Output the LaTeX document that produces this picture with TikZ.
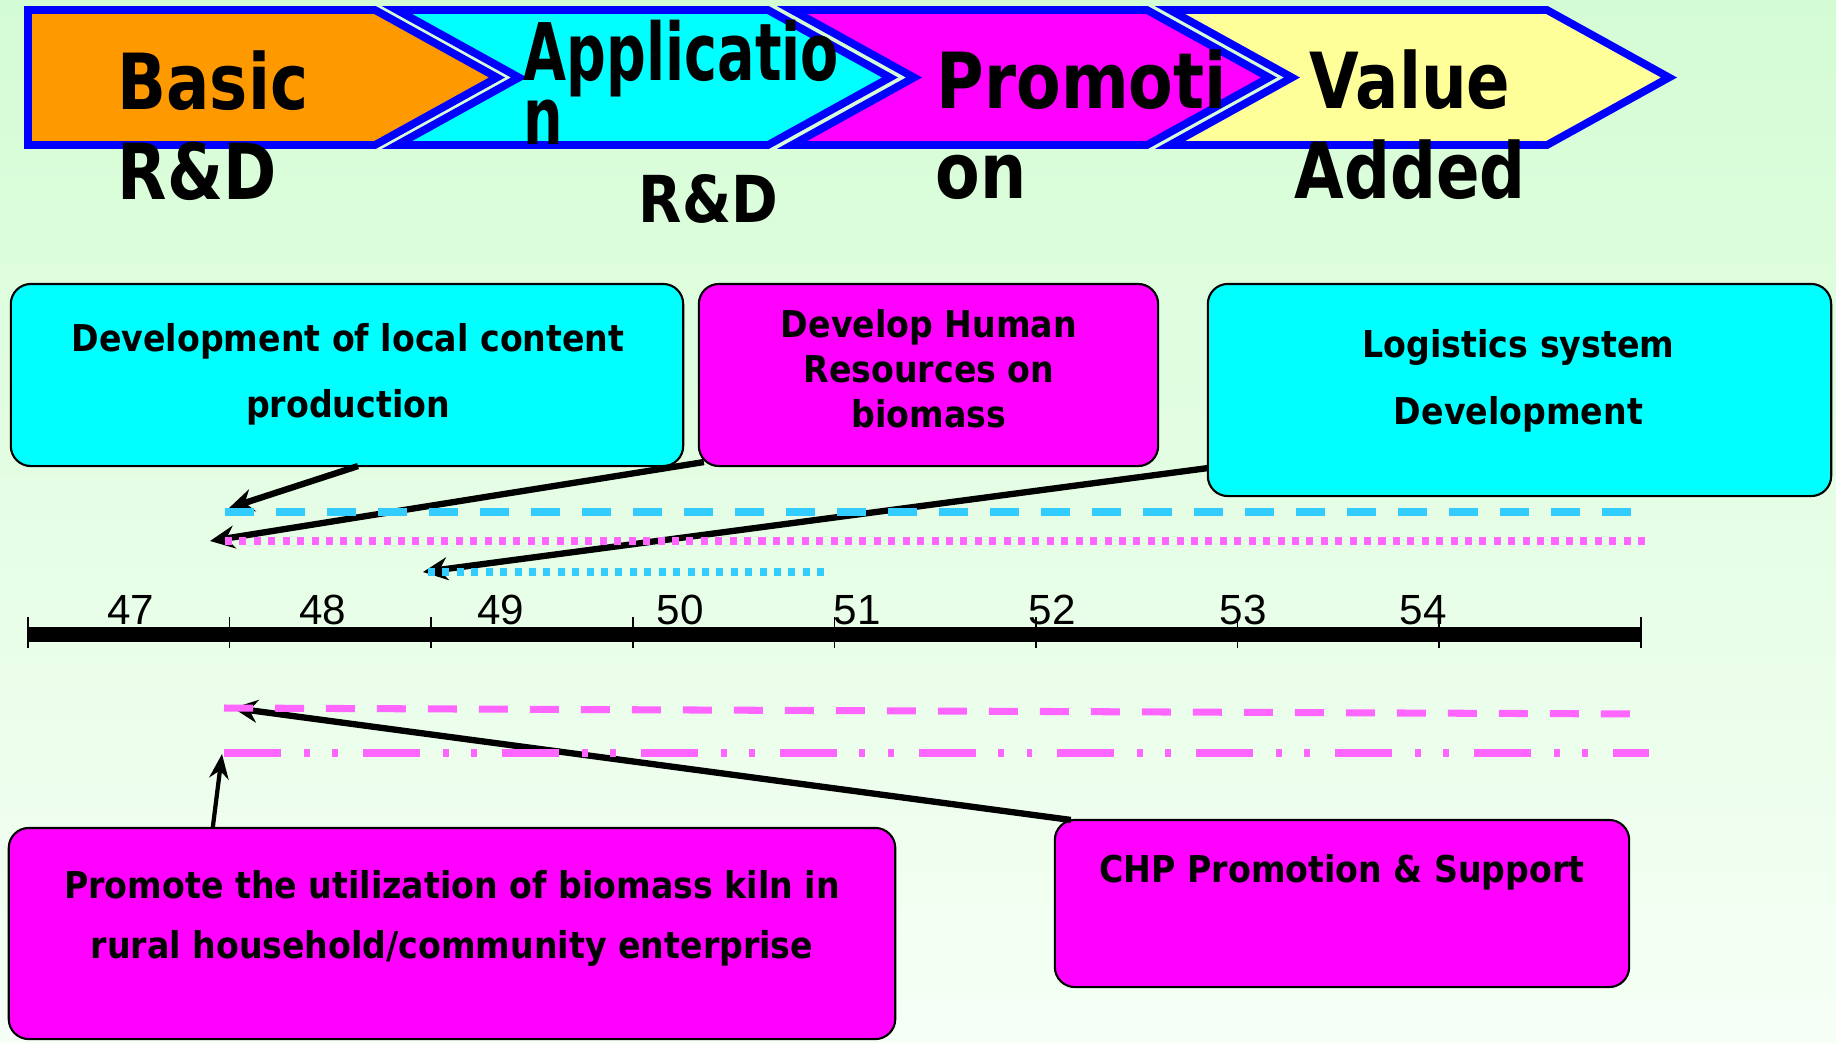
\documentclass[tikz,border=0pt]{standalone}
\usepackage{fontspec}
\usepackage{graphicx}
\usetikzlibrary{calc, arrows.meta}
\newfontfamily\headfont{DejaVu Sans}
\newfontfamily\boxfont[FakeStretch=0.9]{DejaVu Sans}
\newfontfamily\yearfont{Liberation Sans}
\definecolor{bgtop}{RGB}{212,252,212}
\definecolor{bgbot}{RGB}{246,255,246}
\definecolor{chorange}{RGB}{255,153,0}
\definecolor{chcyan}{RGB}{0,255,255}
\definecolor{chmagenta}{RGB}{255,0,255}
\definecolor{chyellow}{RGB}{255,255,153}
\definecolor{chblue}{RGB}{0,0,255}
\definecolor{lineblue}{RGB}{51,204,255}
\definecolor{linepink}{RGB}{255,102,255}
\newcommand{\sq}[2]{\scalebox{#1}[1]{#2}}
\tikzset{>=latex}

\begin{document}
\begin{tikzpicture}[
    x = 0.01cm, y = -0.01cm,
    chev/.style = {draw = chblue, line width = 2.2pt, line join = miter},
    head/.style = {anchor = base west, inner sep = 0pt, font = \headfont\bfseries\fontsize{22}{26}\selectfont},
    box/.style = {draw = black, line width = 0.6pt, rounded corners = 5.7pt, inner sep = 0pt, outer sep = 0pt},
    btxt/.style = {anchor = base, align = center, inner sep = 0pt, font = \boxfont\bfseries\fontsize{10.5}{18.5}\selectfont},
    year/.style = {anchor = base, inner sep = 0pt, font = \yearfont\fontsize{12}{14}\selectfont},
    arr/.style = {line width = 1.8pt, -{Stealth[length = 7pt, width = 6.5pt]}},
    arrthin/.style = {line width = 1.2pt, -{Stealth[length = 7pt, width = 5.5pt]}},
    dsh/.style = {line width = 2pt, dash pattern = on 8.25pt off 6.25pt},
    dot/.style = {line width = 2pt, dash pattern = on 2pt off 2.1pt},
]

\useasboundingbox (0,0) rectangle (1836,1042);
\shade[top color = bgtop, bottom color = bgbot] (0,0) rectangle (1836,1042);

% stages
\draw[chev, fill = chorange] (28,10) -- (375,10) -- (497,77.5) -- (375,145) -- (28,145) -- cycle;
\foreach \l/\f/\col in {397/768/chcyan, 792/1147/chmagenta, 1170/1547/chyellow}
    \draw[chev, fill = \col] (\l,10) -- (\f,10) -- (\f+122,77.5) -- (\f,145) -- (\l,145) -- (\l+122,77.5) -- cycle;

\node[head] (hBasic) at (117,109) {\sq{0.83}{Basic}};
\node[head] (hBasicRD) at (117,199) {\sq{0.83}{R\&D}};
\node[head, font = \headfont\bfseries\fontsize{22.6}{26}\selectfont] (hAppl) at (523,80) {\sq{0.70}{Applicatio}};
\node[head, font = \headfont\bfseries\fontsize{22.6}{26}\selectfont] (hApplN) at (523,144) {\sq{0.70}{n}};
\node[head, font = \headfont\bfseries\fontsize{18.4}{22}\selectfont] (hApplRD) at (638,222) {\sq{0.87}{R\&D}};
\node[head] (hPromo) at (936,108) {\sq{0.84}{Promoti}};
\node[head] (hPromoOn) at (935,198) {\sq{0.84}{on}};
\node[head, anchor = base] (hValue) at (1410,108) {\sq{0.83}{Value}};
\node[head, anchor = base] (hAdded) at (1410,198) {\sq{0.83}{Added}};

% tasks
\node[box, fill = chcyan, minimum width = 6.72cm, minimum height = 1.82cm] (devbox) at (347,375) {};
\node[box, fill = chmagenta, minimum width = 4.59cm, minimum height = 1.82cm] (hrbox) at (928.5,375) {};
\node[box, fill = chcyan, minimum width = 6.23cm, minimum height = 2.12cm] (logbox) at (1519.5,390) {};
\node[box, fill = chmagenta, minimum width = 8.86cm, minimum height = 2.11cm] (kilnbox) at (452,933.5) {};
\node[box, fill = chmagenta, minimum width = 5.74cm, minimum height = 1.67cm] (chpbox) at (1342,903.5) {};

% (base = last line)
\node[btxt] (devtxt) at (348,417) {Development of local content\\production};
\node[btxt, font = \boxfont\bfseries\fontsize{10.5}{12.7}\selectfont] (hrtxt) at (929,427) {Develop Human\\Resources on\\biomass};
\node[btxt, font = \boxfont\bfseries\fontsize{10.5}{18.8}\selectfont] (logtxt) at (1518.5,424) {Logistics system\\Development};
\node[btxt, font = \boxfont\bfseries\fontsize{10.5}{16.8}\selectfont] (kilntxt) at (452,958) {Promote the utilization of biomass kiln in\\rural household/community enterprise};
\node[btxt] (chptxt) at (1342,882) {CHP Promotion \& Support};

% timeline
\coordinate (bdA) at (225,512);  \coordinate (bdB) at (1640,512);
\coordinate (pdA) at (225,541);  \coordinate (pdB) at (1649,541);
\coordinate (sdA) at (428,572);  \coordinate (sdB) at (830,572);
\coordinate (pkA) at (224,708);  \coordinate (pkB) at (1640,714);
\coordinate (ddA) at (224,753);  \coordinate (ddB) at (1649,753);
\coordinate (axL) at (28,634.5); \coordinate (axR) at (1641,634.5);

\draw[arr] ($(devbox.south)+(11,0)$) -- ($(bdA)+(4,-4)$);
\draw[arr] ($(hrbox.south west)+(5,-4)$) -- ($(pdA)+(-15,0)$);
\draw[arr] ($(logbox.south west)+(0,-28)$) -- ($(sdA)+(-5,0)$);
\draw[arrthin] ($(kilnbox.north west)+(204,0)$) -- ($(ddA)+(-2,1)$);
\draw[arr] ($(chpbox.north west)+(16,0)$) -- ($(pkA)+(9,0)$);

\draw[dsh, lineblue] (bdA) -- (bdB);
\draw[dot, linepink] (pdA) -- (pdB);
\draw[dot, lineblue] (sdA) -- (sdB);
\draw[dsh, linepink] (pkA) -- (pkB);
\draw[linepink, line width = 2pt, dash pattern = on 16.2pt off 6.5pt on 1.7pt off 6.3pt on 1.7pt off 7.1pt] (ddA) -- (ddB);

\draw[line width = 4.3pt] (axL) -- (axR);
\foreach \i in {0,...,8}
    \draw[line width = 0.5pt] (28+201.6*\i,617) -- (28+201.6*\i,648);
\foreach \x/\yr in {131/47, 323/48, 501/49, 680/50, 857/51, 1052/52, 1243/53, 1423/54}
    \node[year] (y\yr) at (\x,624) {\yr};

\end{tikzpicture}
\end{document}
